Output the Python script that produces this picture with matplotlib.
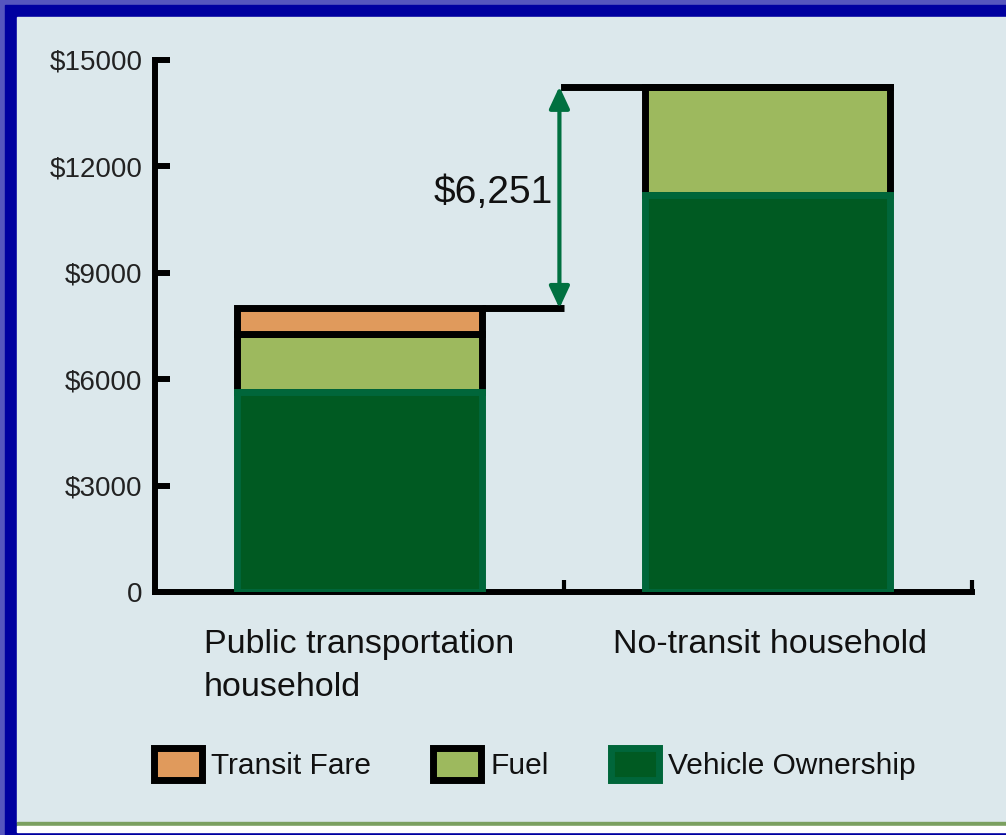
import matplotlib
matplotlib.use("Agg")
import matplotlib.pyplot as plt
from matplotlib.patches import Rectangle, Patch

# Data (annual household transportation cost, USD)
categories = ["Public transportation\nhousehold", "No-transit household"]
vehicle_ownership = [5650, 11180]
fuel = [1620, 3071]
transit_fare = [730, 0]
ytick_values = [0, 3000, 6000, 9000, 12000, 15000]
ytick_labels = ["0", "$3000", "$6000", "$9000", "$12000", "$15000"]
legend_labels = ["Transit Fare", "Fuel", "Vehicle Ownership"]

# Colours
c_fare = "#E09A5C"
c_fuel = "#9DB95E"
c_veh = "#005A22"
c_veh_edge = "#00663A"
c_arrow = "#007040"
c_panel = "#DCE8EC"
font = ["Liberation Sans", "DejaVu Sans"]

W, H = 1006, 835
fig = plt.figure(figsize=(W / 100, H / 100), dpi=100)
fig.patch.set_facecolor("#5656BE")


def px_rect(x0, y0, x1, y1, color):
    # rectangle given in pixel coords measured from the top-left corner
    fig.patches.append(Rectangle((x0 / W, 1 - y1 / H), (x1 - x0) / W, (y1 - y0) / H,
                                 transform=fig.transFigure, color=color, zorder=-10))


# frame: purple edge, dark blue border, light panel, green rule
px_rect(5, 5, W, H, "#0000A0")
px_rect(17, 17, W, 822, c_panel)
px_rect(17, 822, W, 826, "#7BA060")
px_rect(17, 826, W, 832, "white")

ax = fig.add_axes([155 / W, 1 - 592 / H, (972 - 155) / W, (592 - 60) / H])
ax.patch.set_visible(False)

x = [0.5, 1.5]
w = 0.6
lw = 5

veh_bars = ax.bar(x, vehicle_ownership, width=w, color=c_veh, edgecolor=c_veh_edge,
                  linewidth=lw, zorder=3)
fuel_bars = ax.bar(x, fuel, width=w, bottom=vehicle_ownership, color=c_fuel,
                   edgecolor="black", linewidth=lw, zorder=2)
fare_x = [xi for xi, f in zip(x, transit_fare) if f > 0]
fare_v = [f for f in transit_fare if f > 0]
fare_b = [v + f for v, f, t in zip(vehicle_ownership, fuel, transit_fare) if t > 0]
fare_bars = ax.bar(fare_x, fare_v, width=w, bottom=fare_b, color=c_fare,
                   edgecolor="black", linewidth=lw, zorder=2)
for b in list(veh_bars) + list(fuel_bars) + list(fare_bars):
    b.set_joinstyle("miter")

# totals and difference step
totals = [v + f + t for v, f, t in zip(vehicle_ownership, fuel, transit_fare)]
diff = totals[1] - totals[0]
ax.plot([x[0] + w / 2, 1.0], [totals[0], totals[0]], color="black", lw=lw,
        solid_capstyle="butt", zorder=4)
ax.plot([1.0, x[1] + w / 2], [totals[1], totals[1]], color="black", lw=lw,
        solid_capstyle="projecting", zorder=4)
ax.annotate("", xy=(0.99, totals[1]), xytext=(0.99, totals[0]),
            arrowprops=dict(arrowstyle="<|-|>,head_length=0.6,head_width=0.28", color=c_arrow,
                            lw=3, mutation_scale=22, shrinkA=0, shrinkB=0), zorder=5)
ax.text(0.975, (totals[0] + totals[1]) / 2 + 120, f"${diff:,}", ha="right", va="center",
        fontsize=28, family=font, color="#111111")

# axes styling
ax.set_xlim(0, 2)
ax.set_ylim(0, 15000)
for s in ["top", "right"]:
    ax.spines[s].set_visible(False)
for s in ["left", "bottom"]:
    ax.spines[s].set_linewidth(4.3)
    ax.spines[s].set_capstyle("projecting")
ax.set_yticks(ytick_values)
ax.set_yticklabels(ytick_labels, family=font, color="#222222")
ax.tick_params(axis="y", direction="in", length=11, width=4.3, labelsize=20, pad=9)
ax.set_xticks([1, 2])
ax.set_xticklabels([])
ax.tick_params(axis="x", direction="in", length=9, width=3)

# category labels
for xi, cat in zip(x, categories):
    ax.text(xi - 0.38, -0.07, cat, transform=ax.get_xaxis_transform(), ha="left", va="top",
            fontsize=24.5, family=font, color="#111111", linespacing=1.5)

# legend
handles = [Patch(facecolor=c_fare, edgecolor="black", linewidth=lw),
           Patch(facecolor=c_fuel, edgecolor="black", linewidth=lw),
           Patch(facecolor=c_veh, edgecolor=c_veh_edge, linewidth=lw)]
leg = fig.legend(handles, legend_labels, loc="center left", bbox_to_anchor=(154 / W, 1 - 764 / H),
                 ncol=3, frameon=False, prop={"family": font, "size": 21.5},
                 handlelength=1.6, handleheight=1.24, handletextpad=0.3,
                 columnspacing=2.1, borderpad=0, borderaxespad=0)
for t in leg.get_texts():
    t.set_color("#111111")

fig.savefig("out.png", dpi=100, facecolor=fig.get_facecolor())
